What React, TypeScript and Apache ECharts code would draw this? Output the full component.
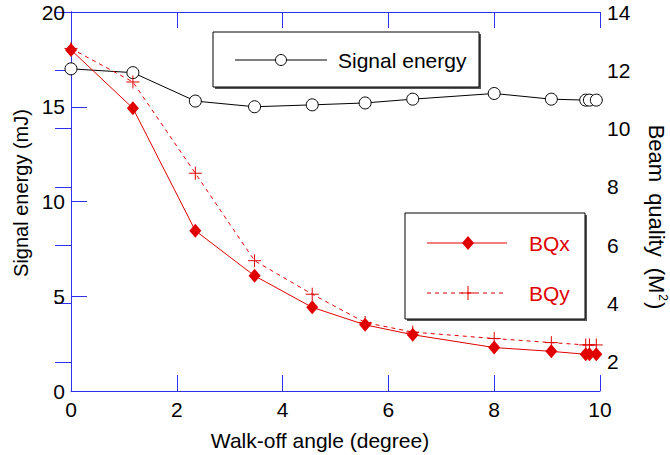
import React, { useEffect, useRef } from "react";
import * as echarts from "echarts";

// Walk-off angle (degree) for each measurement
const angles = [0, 1.17, 2.35, 3.47, 4.56, 5.56, 6.46, 8.0, 9.08, 9.73, 9.8, 9.93];
// Signal energy (mJ) – left axis
const signalEnergy = [17.0, 16.8, 15.3, 15.0, 15.1, 15.2, 15.4, 15.7, 15.4, 15.35, 15.35, 15.35];
// Beam quality M² – right axis
const bqx = [12.7, 10.7, 6.5, 4.95, 3.87, 3.27, 2.93, 2.49, 2.36, 2.26, 2.26, 2.26];
const bqy = [12.75, 11.6, 8.47, 5.47, 4.32, 3.35, 3.02, 2.8, 2.66, 2.58, 2.58, 2.58];

const xTicks = [0, 2, 4, 6, 8, 10];
const leftTicks = [0, 5, 10, 15, 20];
const rightTicks = [2, 4, 6, 8, 10, 12, 14];

const BLUE = "#2f2ff0";
const RED = "#e00000";
const FONT = "Liberation Sans, Arial, sans-serif";
const PLUS = "path://M6,0L6,12M0,6L12,6";
const FS = 21;

export default function App() {
  const ref = useRef<HTMLDivElement>(null);
  useEffect(() => {
    if (!ref.current) return;
    const chart = echarts.init(ref.current, undefined, { renderer: "svg" });
    const pair = (ys: number[]) => angles.map((x, i) => [x, ys[i]]);
    const axisCommon = {
      axisLine: { show: true, lineStyle: { color: BLUE, width: 1 } },
      axisTick: { show: true, inside: true, length: 16, lineStyle: { color: BLUE, width: 1 } },
      splitLine: { show: false },
      axisLabel: { color: "#000", fontSize: FS, fontFamily: FONT },
    };
    chart.setOption({
      animation: false,
      backgroundColor: "#fff",
      textStyle: { fontFamily: FONT },
      grid: { left: 71, right: 70, top: 12, bottom: 64, containLabel: false },
      xAxis: [
        {
          ...axisCommon,
          type: "value",
          position: "bottom",
          min: xTicks[0],
          max: xTicks[xTicks.length - 1],
          interval: 2,
          axisLabel: { ...axisCommon.axisLabel, margin: 8 },
        },
        {
          ...axisCommon,
          type: "value",
          position: "top",
          min: xTicks[0],
          max: xTicks[xTicks.length - 1],
          interval: 2,
          axisLabel: { show: false },
        },
      ],
      yAxis: [
        {
          ...axisCommon,
          type: "value",
          position: "left",
          min: leftTicks[0],
          max: leftTicks[leftTicks.length - 1],
          interval: 5,
          axisLabel: { ...axisCommon.axisLabel, margin: 6 },
        },
        {
          ...axisCommon,
          type: "value",
          position: "right",
          min: 1,
          max: 14,
          axisLabel: { ...axisCommon.axisLabel, margin: 7, customValues: rightTicks },
          axisTick: { ...axisCommon.axisTick, customValues: rightTicks },
        },
      ],
      series: [
        {
          name: "Signal energy",
          type: "line",
          xAxisIndex: 0,
          yAxisIndex: 0,
          data: pair(signalEnergy),
          symbol: "circle",
          symbolSize: 12,
          lineStyle: { color: "#000", width: 1 },
          itemStyle: { color: "#fff", borderColor: "#000", borderWidth: 1 },
          z: 3,
        },
        {
          name: "BQy",
          type: "line",
          xAxisIndex: 0,
          yAxisIndex: 1,
          data: pair(bqy),
          symbol: PLUS,
          symbolSize: 13,
          lineStyle: { color: RED, width: 1, type: [4, 4] },
          itemStyle: { color: "none", borderColor: RED, borderWidth: 1 },
          z: 3,
        },
        {
          name: "BQx",
          type: "line",
          xAxisIndex: 0,
          yAxisIndex: 1,
          data: pair(bqx),
          symbol: "diamond",
          symbolSize: [12, 14],
          lineStyle: { color: RED, width: 1 },
          itemStyle: { color: RED, borderColor: RED, borderWidth: 0 },
          z: 4,
        },
      ],
      graphic: [
        // axis titles
        { type: "text", x: 320, y: 440, style: { text: "Walk-off angle (degree)", fill: "#000", fontSize: FS, fontFamily: FONT, align: "center", verticalAlign: "middle" } },
        { type: "text", x: 21, y: 193, rotation: Math.PI / 2, style: { text: "Signal energy (mJ)", fill: "#000", fontSize: 20, fontFamily: FONT, align: "center", verticalAlign: "middle" } },
        {
          type: "text",
          x: 657,
          y: 217,
          rotation: -Math.PI / 2,
          style: {
            text: "{a|Beam}{g| }{a|quality}{g| }{a|(M}{s|2}{a|)}",
            fill: "#000",
            fontFamily: FONT,
            align: "center",
            verticalAlign: "middle",
            rich: {
              a: { fontSize: 22, fontFamily: FONT, fill: "#000", lineHeight: 24, verticalAlign: "bottom" },
              g: { fontSize: 22, fontFamily: FONT, fill: "#000", lineHeight: 24, width: 11, verticalAlign: "bottom" },
              s: { fontSize: 12, fontFamily: FONT, fill: "#000", lineHeight: 24, verticalAlign: "top", padding: [0, 1, 10, 1] },
            },
          },
        },
        // legend 1 box
        { type: "rect", shape: { x: 215, y: 34, width: 266, height: 55 }, style: { fill: "#555" }, z: 10 },
        { type: "rect", shape: { x: 213, y: 32, width: 266, height: 55 }, style: { fill: "#fff", stroke: "#000", lineWidth: 1 }, z: 11 },
        { type: "line", shape: { x1: 235, y1: 60, x2: 327, y2: 60 }, style: { stroke: "#000", lineWidth: 1 }, z: 12 },
        { type: "circle", shape: { cx: 281, cy: 60, r: 5.5 }, style: { fill: "#fff", stroke: "#000", lineWidth: 1 }, z: 13 },
        { type: "text", x: 338, y: 60, style: { text: "Signal energy", fill: "#000", fontSize: FS, fontFamily: FONT, verticalAlign: "middle", align: "left" }, z: 13 },
        // legend 2 box
        { type: "rect", shape: { x: 407, y: 215, width: 180, height: 106 }, style: { fill: "#555" }, z: 10 },
        { type: "rect", shape: { x: 405, y: 213, width: 180, height: 106 }, style: { fill: "#fff", stroke: "#000", lineWidth: 1 }, z: 11 },
        { type: "line", shape: { x1: 427, y1: 243, x2: 507, y2: 243 }, style: { stroke: RED, lineWidth: 1 }, z: 12 },
        { type: "polygon", shape: { points: [[468, 236], [474, 243], [468, 250], [462, 243]] }, style: { fill: RED }, z: 13 },
        { type: "text", x: 529, y: 243, style: { text: "BQx", fill: RED, fontSize: FS, fontFamily: FONT, verticalAlign: "middle", align: "left" }, z: 13 },
        { type: "line", shape: { x1: 427, y1: 293, x2: 507, y2: 293 }, style: { stroke: RED, lineWidth: 1, lineDash: [4, 4] }, z: 12 },
        { type: "line", shape: { x1: 468, y1: 286, x2: 468, y2: 300 }, style: { stroke: RED, lineWidth: 1 }, z: 13 },
        { type: "line", shape: { x1: 461, y1: 293, x2: 475, y2: 293 }, style: { stroke: RED, lineWidth: 1 }, z: 13 },
        { type: "text", x: 529, y: 293, style: { text: "BQy", fill: RED, fontSize: FS, fontFamily: FONT, verticalAlign: "middle", align: "left" }, z: 13 },
      ],
    });
    return () => chart.dispose();
  }, []);
  return (
    <div
      ref={ref}
      style={{ position: "absolute", left: 0, top: 0, width: 670, height: 455, background: "#fff" }}
    />
  );
}
